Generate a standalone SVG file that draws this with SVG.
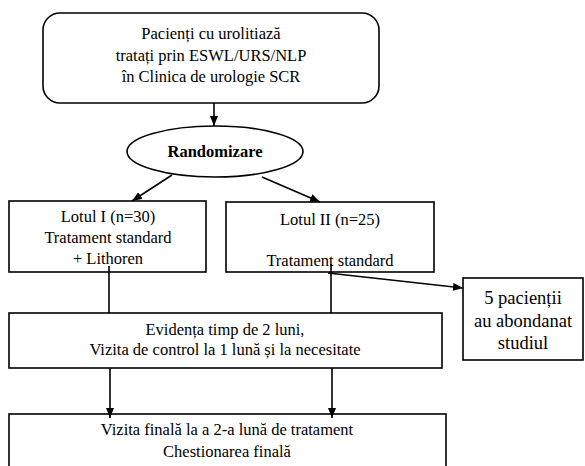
<svg xmlns="http://www.w3.org/2000/svg" width="585" height="466" viewBox="0 0 585 466">
<style>
.box{fill:#fff;stroke:#000;stroke-width:1.6}
text{font-family:'Liberation Serif','DejaVu Serif',serif;font-size:16.5px;fill:#000;text-anchor:middle}
.b{font-weight:bold}
.big{font-size:18.5px}
.ln{stroke:#000;stroke-width:1.6;fill:none}
</style>
<defs>
<marker id="ah" markerWidth="10" markerHeight="8" refX="10" refY="4" orient="auto" markerUnits="userSpaceOnUse">
<path d="M0,0 L10,4 L0,8 Z" fill="#000"/>
</marker>
</defs>
<rect width="585" height="466" fill="#fff"/>
<g id="start">
<rect class="box" x="43" y="13" width="336" height="90" rx="17"/>
<text x="211" y="39">Pacienți cu urolitiază</text>
<text x="211" y="61">tratați prin ESWL/URS/NLP</text>
<text x="211" y="82">în Clinica de urologie SCR</text>
</g>
<g id="randomizare">
<ellipse class="box" cx="215" cy="151.5" rx="88" ry="25.5"/>
<text class="b" x="215" y="157">Randomizare</text>
</g>
<g id="lot1">
<rect class="box" x="9" y="201" width="197" height="71"/>
<text x="108" y="222">Lotul I (n=30)</text>
<text x="108" y="243">Tratament standard</text>
<text x="108" y="264">+ Lithoren</text>
</g>
<g id="lot2">
<rect class="box" x="226" y="202" width="208" height="70"/>
<text x="330" y="225">Lotul II (n=25)</text>
<text x="330" y="266">Tratament standard</text>
</g>
<g id="abandon">
<rect class="box" x="463" y="278" width="120" height="82"/>
<text class="big" x="523" y="304">5 pacienții</text>
<text class="big" x="523" y="327">au abondanat</text>
<text class="big" x="523" y="349">studiul</text>
</g>
<g id="evidenta">
<rect class="box" x="9" y="313" width="433" height="55"/>
<text x="225" y="335">Evidența timp de 2 luni,</text>
<text x="225" y="355">Vizita de control la 1 lună și la necesitate</text>
</g>
<g id="final">
<rect class="box" x="9" y="414" width="437" height="60"/>
<text x="227" y="435">Vizita finală la a 2-a lună de tratament</text>
<text x="227" y="457">Chestionarea finală</text>
</g>
<g id="connectors">
<line class="ln" x1="214" y1="103" x2="214" y2="126" marker-end="url(#ah)"/>
<line class="ln" x1="172" y1="175" x2="132" y2="201" marker-end="url(#ah)"/>
<line class="ln" x1="262" y1="177" x2="320" y2="202" marker-end="url(#ah)"/>
<line class="ln" x1="109" y1="266" x2="109" y2="313"/>
<line class="ln" x1="331" y1="264" x2="331" y2="313"/>
<line class="ln" x1="328" y1="273" x2="463" y2="288" marker-end="url(#ah)"/>
<line class="ln" x1="110" y1="368" x2="110" y2="418" marker-end="url(#ah)"/>
<line class="ln" x1="332" y1="368" x2="332" y2="418" marker-end="url(#ah)"/>
</g>
</svg>
